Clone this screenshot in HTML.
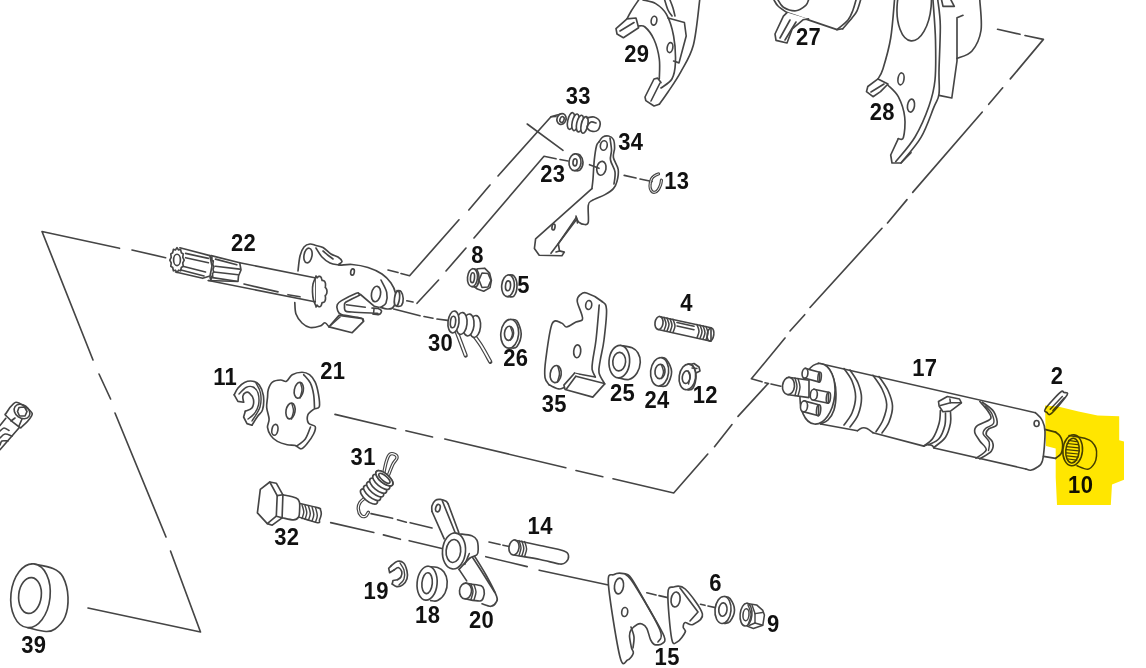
<!DOCTYPE html>
<html><head><meta charset="utf-8"><style>
html,body{margin:0;padding:0;background:#fff;width:1146px;height:668px;overflow:hidden}
svg{display:block;position:absolute;left:0;top:0}
.dr{}
.tx{filter:grayscale(1)}
.yl{mix-blend-mode:multiply}
.lb{font-family:"Liberation Sans",sans-serif;font-weight:bold;font-size:22px;letter-spacing:0.3px;fill:#111}
</style></head><body>
<svg class="dr" width="1146" height="668" viewBox="0 0 1146 668" stroke-linecap="round" stroke-linejoin="round"><path d="M165.6,257.7 L132,250" fill="none" stroke="#454545" stroke-width="1.65" />
<path d="M119.5,248.3 L42,231.5 L93,360" fill="none" stroke="#454545" stroke-width="1.65" />
<path d="M99,374 L110.6,399" fill="none" stroke="#454545" stroke-width="1.65" />
<path d="M115,413 L166,537" fill="none" stroke="#454545" stroke-width="1.65" />
<path d="M170.5,551 L200.5,632 L88,608" fill="none" stroke="#454545" stroke-width="1.65" />
<path d="M388,270 L398,272.5" fill="none" stroke="#454545" stroke-width="1.65" />
<path d="M401,273.5 L409.6,275.7 L459,219.8" fill="none" stroke="#454545" stroke-width="1.65" />
<path d="M468.8,210 L490,185" fill="none" stroke="#454545" stroke-width="1.65" />
<path d="M498,176 L551,116.8 L556,116.5" fill="none" stroke="#454545" stroke-width="1.65" />
<path d="M406.8,300.8 L413,302" fill="none" stroke="#454545" stroke-width="1.65" />
<path d="M417,303.3 L438.6,280" fill="none" stroke="#454545" stroke-width="1.65" />
<path d="M446,271 L466,248" fill="none" stroke="#454545" stroke-width="1.65" />
<path d="M474,238 L544,156.3 L556,158.8" fill="none" stroke="#454545" stroke-width="1.65" />
<path d="M560,159.5 L568,161" fill="none" stroke="#454545" stroke-width="1.65" />
<path d="M527.2,124 L563,150.3" fill="none" stroke="#454545" stroke-width="1.65" />
<path d="M589.5,164.7 L599,168.3" fill="none" stroke="#454545" stroke-width="1.65" />
<path d="M624.2,175.4 L636,178" fill="none" stroke="#454545" stroke-width="1.65" />
<path d="M640,179 L652,181.5" fill="none" stroke="#454545" stroke-width="1.65" />
<path d="M393.7,309 L420,315.7" fill="none" stroke="#454545" stroke-width="1.65" />
<path d="M424,316.5 L433,318.2" fill="none" stroke="#454545" stroke-width="1.65" />
<path d="M437,319 L447.6,320.4" fill="none" stroke="#454545" stroke-width="1.65" />
<path d="M335,414.4 L395.6,428.7" fill="none" stroke="#454545" stroke-width="1.65" />
<path d="M405.9,430.8 L432.5,437" fill="none" stroke="#454545" stroke-width="1.65" />
<path d="M444.8,439 L565.8,467.7" fill="none" stroke="#454545" stroke-width="1.65" />
<path d="M576,470.5 L602.8,476.7" fill="none" stroke="#454545" stroke-width="1.65" />
<path d="M613,478.8 L673.7,493 L707.8,454" fill="none" stroke="#454545" stroke-width="1.65" />
<path d="M714.5,446.7 L732,424.6" fill="none" stroke="#454545" stroke-width="1.65" />
<path d="M738,416.4 L767.7,384" fill="none" stroke="#454545" stroke-width="1.65" />
<path d="M997.6,29.3 L1020,34.3" fill="none" stroke="#454545" stroke-width="1.65" />
<path d="M1025,35.5 L1043.4,39.4 L1010.3,78.9" fill="none" stroke="#454545" stroke-width="1.65" />
<path d="M1002.7,87.8 L988.7,104.3" fill="none" stroke="#454545" stroke-width="1.65" />
<path d="M982.3,112 L912.7,192.4" fill="none" stroke="#454545" stroke-width="1.65" />
<path d="M907,199.6 L887.5,223" fill="none" stroke="#454545" stroke-width="1.65" />
<path d="M882,228.3 L810,307.5" fill="none" stroke="#454545" stroke-width="1.65" />
<path d="M804.7,314.7 L790,331" fill="none" stroke="#454545" stroke-width="1.65" />
<path d="M785,338 L751.4,378.8 L762,381.8" fill="none" stroke="#454545" stroke-width="1.65" />
<path d="M765,382.8 L768.5,383.5" fill="none" stroke="#454545" stroke-width="1.65" />
<path d="M771,384 L780.8,386.2" fill="none" stroke="#454545" stroke-width="1.65" />
<path d="M371,513.6 L392.6,518.3" fill="none" stroke="#454545" stroke-width="1.65" />
<path d="M397.5,519.8 L406.3,522.2" fill="none" stroke="#454545" stroke-width="1.65" />
<path d="M410.2,522.7 L432,528" fill="none" stroke="#454545" stroke-width="1.65" />
<path d="M489,542 L500,544.5" fill="none" stroke="#454545" stroke-width="1.65" />
<path d="M503,545.2 L509.3,546.5" fill="none" stroke="#454545" stroke-width="1.65" />
<path d="M330.7,522.6 L373.8,532.5" fill="none" stroke="#454545" stroke-width="1.65" />
<path d="M383.4,534.9 L400.4,539.3" fill="none" stroke="#454545" stroke-width="1.65" />
<path d="M409.2,540.7 L452.5,551" fill="none" stroke="#454545" stroke-width="1.65" />
<path d="M485.8,556.7 L527.2,566.6" fill="none" stroke="#454545" stroke-width="1.65" />
<path d="M539.2,570.2 L608.4,585" fill="none" stroke="#454545" stroke-width="1.65" />
<path d="M646.8,592.8 L656,595" fill="none" stroke="#454545" stroke-width="1.65" />
<path d="M659,595.6 L667.9,597.6" fill="none" stroke="#454545" stroke-width="1.65" />
<path d="M700.5,604.3 L705,605.3" fill="none" stroke="#454545" stroke-width="1.65" />
<path d="M708,606 L717.8,608.1" fill="none" stroke="#454545" stroke-width="1.65" />
<path d="M31.8,563.8 C35.3,564.6 47.8,566.3 53,568.5 C58.2,570.7 60.5,572.2 63,577 C65.5,581.8 67.7,590.3 68,597 C68.3,603.7 67.2,611.7 65,617 C62.8,622.3 58.2,626.6 55,629 C51.8,631.4 50.5,631.7 46,631.5 C41.5,631.3 31,628.3 28,627.7" fill="#fff" stroke="#454545" stroke-width="1.65" />
<ellipse cx="30.5" cy="595.7" rx="19.6" ry="32" transform="rotate(6 30.5 595.7)" fill="#fff" stroke="#454545" stroke-width="1.65"/>
<ellipse cx="30" cy="595.5" rx="11.3" ry="18" transform="rotate(6 30 595.5)" fill="none" stroke="#454545" stroke-width="1.65"/>
<path d="M5.8,418.3 L0,425.6" fill="none" stroke="#454545" stroke-width="1.65" />
<path d="M20,426.7 L0,449.7" fill="none" stroke="#454545" stroke-width="1.65" />
<path d="M0,431 C0.7,430.5 2.5,428.1 4,428 C5.5,427.9 8.2,430.1 9,430.5" fill="none" stroke="#454545" stroke-width="1.65" />
<path d="M0,438 C0.8,437.3 3,434.3 5,434 C7,433.7 10.8,435.7 12,436" fill="none" stroke="#454545" stroke-width="1.65" />
<path d="M0,445 C0.3,444.3 0.7,441.7 2,441 C3.3,440.3 7,441 8,441" fill="none" stroke="#454545" stroke-width="1.65" />
<path d="M6.3,413 C7.5,410.9 11.5,405.3 13.6,403.6 C15.7,401.9 16.1,401.8 18.9,403 C21.7,404.2 28.3,408.8 30.4,411 C32.5,413.2 32.8,413.6 31.4,416.2 C30,418.8 24.1,424.9 22,426.7 C19.9,428.4 21.5,428.5 18.9,426.7 C16.3,424.9 8.4,418.3 6.3,416 C4.2,413.7 5.1,415.1 6.3,413Z" fill="#fff" stroke="#454545" stroke-width="1.65" />
<ellipse cx="22" cy="411.5" rx="8.5" ry="6.5" transform="rotate(35 22 411.5)" fill="none" stroke="#454545" stroke-width="1.65"/>
<path d="M19,407.5 L24.5,407 L27,411.5 L25,416 L19.5,416 L17.5,411.5Z" fill="none" stroke="#454545" stroke-width="1.65" />
<path d="M11,421 L15,418" fill="none" stroke="#454545" stroke-width="1.65" />
<path d="M19,426 L22,419" fill="none" stroke="#454545" stroke-width="1.65" />
<path d="M298,271 C298.3,268.5 299,260 300,256 C301,252 302.3,249 304,247 C305.7,245 308,244.2 310,244 C312,243.8 313.8,244.9 316,245.5 C318.2,246.1 320.5,246.1 323,247.5 C325.5,248.9 328.5,252.4 331,254 C333.5,255.6 336.2,255.8 338,257 C339.8,258.2 341.8,260.2 342,261.5 C342.2,262.8 337.3,264.5 339,265 C340.7,265.5 347.2,264.1 352,264.5 C356.8,264.9 363,265.9 368,267.5 C373,269.1 378.2,271.4 382,274 C385.8,276.6 388.8,279.8 391,283 C393.2,286.2 394.8,289.8 395.5,293 C396.2,296.2 396,299.5 395.5,302 C395,304.5 393.9,306.8 392.5,308 C391.1,309.2 389.1,309.1 387,309 C384.9,308.9 381.2,307.5 380,307.2" fill="#fff" stroke="#454545" stroke-width="1.65" />
<path d="M294.8,302.5 C295,304.4 294.8,310.6 296,314 C297.2,317.4 299.7,320.8 302,323 C304.3,325.2 307,327 310,327.5 C313,328 317.5,326.8 320,326 C322.5,325.2 323.5,322.7 325,322.8 C326.5,322.9 328.3,326.2 329,326.9" fill="none" stroke="#454545" stroke-width="1.65" />
<path d="M339,315.4 L362.9,318.7 L363.7,321.2 L352.2,332.7 L329,326.9Z" fill="#fff" stroke="#454545" stroke-width="1.65" />
<path d="M331,325 L340,317" fill="none" stroke="#454545" stroke-width="1.5499999999999998" />
<path d="M358.7,293.6 C358.3,293.5 359.2,292 356.3,293.2 C353.4,294.4 344.7,298.7 341.5,300.6 C338.3,302.5 338,303.1 337.3,304.7 C336.6,306.3 336.8,308.4 337.5,310 C338.2,311.6 337.7,313.3 341.5,314.6 C345.3,315.9 356.8,316.9 360.4,317.9 C364,318.8 362.5,319.9 362.9,320.3" fill="#fff" stroke="#454545" stroke-width="1.65" />
<path d="M359.6,295.2 C357.3,296.3 348.5,300.2 346,302 C343.5,303.8 344.6,304.5 344.5,306 C344.4,307.5 344.2,310 345.5,311 C346.8,312 347.8,311.7 352,312 C356.2,312.3 366.7,312.8 371,313 C375.3,313.2 376.8,313.4 378,313.5" fill="none" stroke="#454545" stroke-width="1.65" />
<path d="M358.7,293.6 L360.5,294.5 L374.4,306.3 L378.5,307.2" fill="none" stroke="#454545" stroke-width="1.65" />
<path d="M346.4,304.7 L365.3,307.2" fill="none" stroke="#454545" stroke-width="1.5499999999999998" />
<path d="M372,308 C373,308.1 376.4,308 378,308.5 C379.6,309 381.3,310 381.5,311 C381.7,312 380.4,314 379,314.5 C377.6,315 374,314.1 373,314" fill="none" stroke="#454545" stroke-width="1.65" />
<path d="M374,309 L373.5,314" fill="none" stroke="#454545" stroke-width="1.5499999999999998" />
<path d="M316,248 C317,249.5 319.7,254.5 322,257 C324.3,259.5 327.2,261.7 330,263 C332.8,264.3 337.5,264.7 339,265" fill="none" stroke="#454545" stroke-width="1.65" />
<path d="M323,251 C324,251.8 327.3,254.7 329,256 C330.7,257.3 332.3,258.5 333,259" fill="none" stroke="#454545" stroke-width="1.65" />
<path d="M381,280 C381.9,282.1 385.9,288.5 386.7,292.3 C387.5,296.1 386.9,300.5 386,303 C385.1,305.5 381.8,306.5 381,307.2" fill="none" stroke="#454545" stroke-width="1.65" />
<ellipse cx="308" cy="255.5" rx="4" ry="7.4" transform="rotate(10 308 255.5)" fill="none" stroke="#454545" stroke-width="1.65"/>
<ellipse cx="352.5" cy="272" rx="1.8" ry="3.2" transform="rotate(10 352.5 272)" fill="none" stroke="#454545" stroke-width="1.65"/>
<ellipse cx="376" cy="294" rx="4.5" ry="7.8" transform="rotate(10 376 294)" fill="none" stroke="#454545" stroke-width="1.65"/>
<path d="M397,290.7 C397.7,290.8 400,290.2 401,291.5 C402,292.8 403.1,296.2 403.2,298.5 C403.3,300.8 402.5,304.2 401.5,305.5 C400.5,306.8 397.8,306.2 397,306.3" fill="#fff" stroke="#454545" stroke-width="1.65" />
<ellipse cx="397" cy="298.5" rx="2.5" ry="7.5" transform="rotate(8 397 298.5)" fill="#fff" stroke="#454545" stroke-width="1.65"/>
<path d="M239.7,262.7 L316,278 L316,302 L208.4,280.5" fill="#fff" stroke="#454545" stroke-width="1.65" />
<path d="M244,284 L278,291.9" fill="none" stroke="#454545" stroke-width="1.65" />
<path d="M288,294.7 L300,296.8" fill="none" stroke="#454545" stroke-width="1.65" />
<path d="M316,276 L317,277.9 L317.5,277.4 L318,276.9 L318.5,276.5 L319,276.3 L319.6,276.3 L320.1,276.5 L320.6,276.8 L321,277.3 L321.4,278 L321.6,278.8 L321.9,279.6 L322.1,280.5 L322.6,280.5 L323.2,280.6 L323.8,280.8 L324.3,281.1 L324.7,281.6 L325.1,282.2 L325.3,282.9 L325.5,283.7 L325.5,284.6 L325.5,285.5 L325.4,286.4 L325.2,287.3 L325.7,287.8 L326.1,288.4 L326.5,289.1 L326.8,289.9 L326.9,290.7 L327,291.5 L326.9,292.3 L326.8,293.1 L326.5,293.9 L326.1,294.6 L325.7,295.2 L325.2,295.7 L325.4,296.6 L325.5,297.5 L325.5,298.4 L325.5,299.3 L325.3,300.1 L325.1,300.8 L324.7,301.4 L324.3,301.9 L323.8,302.2 L323.2,302.4 L322.6,302.5 L322.1,302.5 L321.9,303.4 L321.6,304.2 L321.4,305 L321,305.7 L320.6,306.2 L320.1,306.5 L319.6,306.7 L319,306.7 L318.5,306.5 L318,306.1 L317.5,305.6 L317,305.1 L316,307" fill="#fff" stroke="#454545" stroke-width="1.65" />
<path d="M316,276.5 C315.5,277.8 313.6,281.4 313,284 C312.4,286.6 312.4,289.3 312.5,292 C312.6,294.7 312.9,297.7 313.5,300 C314.1,302.3 315.6,305 316,306" fill="none" stroke="#454545" stroke-width="1.65" />
<path d="M211.2,255.6 L239.7,262.7 L241,270 L238.5,276 L238,281.5 L208.4,280.5" fill="#fff" stroke="#454545" stroke-width="1.65" />
<path d="M215.5,259.1 L236.8,264.8" fill="none" stroke="#454545" stroke-width="1.65" />
<path d="M215.5,266.3 L239.7,269.1" fill="none" stroke="#454545" stroke-width="1.65" />
<path d="M214,272 L238.2,274.8" fill="none" stroke="#454545" stroke-width="1.65" />
<path d="M212.6,277.6 L236.8,281.2" fill="none" stroke="#454545" stroke-width="1.65" />
<path d="M210,255.5 L210.7,258.9 L211.9,256.9 L212,261 L213.3,260.9 L212.8,264.7 L214,266.5 L213,269.1 L213.7,272.4 L212.5,273.3 L212.7,277.4 L211.4,276.3 L211,280.1 L210,277.4" fill="none" stroke="#454545" stroke-width="1.65" />
<path d="M179.9,247.8 L209.8,255.6 L212,266 L210,276 L202.7,278.3 L175.6,272" fill="#fff" stroke="#454545" stroke-width="1.65" />
<path d="M185.6,253.4 L208.4,258.4" fill="none" stroke="#454545" stroke-width="1.65" />
<path d="M185.6,257.7 L208.4,262.7" fill="none" stroke="#454545" stroke-width="1.65" />
<path d="M182.8,266.3 L205.5,272" fill="none" stroke="#454545" stroke-width="1.65" />
<path d="M181,270 L204,276" fill="none" stroke="#454545" stroke-width="1.65" />
<path d="M184.2,260.1 L182.8,262.8 L183.2,266.3 L181.3,267.5 L180.6,270.8 L178.6,270.2 L177,272.5 L175.4,270.2 L173.4,270.8 L172.7,267.5 L170.8,266.3 L171.2,262.8 L169.8,260.1 L171.2,257.4 L170.8,253.9 L172.7,252.7 L173.4,249.4 L175.4,250 L177,247.7 L178.6,250 L180.6,249.4 L181.3,252.7 L183.2,253.9 L182.8,257.4Z" fill="#fff" stroke="#454545" stroke-width="1.65" />
<ellipse cx="177" cy="259.9" rx="3.4" ry="5.7" transform="rotate(0 177 259.9)" fill="none" stroke="#454545" stroke-width="1.65"/>
<path d="M477.9,268.7 L484.6,268.2 L489.6,273.2 L491.4,280.4 L490,287.6 L483.7,291.2 L477.4,289 L472,285 L472,272Z" fill="#fff" stroke="#454545" stroke-width="1.65" />
<path d="M482,273 L488,273.5 L491,280.4 L488,287 L482,287.5 L479,280Z" fill="none" stroke="#454545" stroke-width="1.5499999999999998" />
<path d="M472.5,268.7 C473.2,268.9 475.9,268.5 477,270 C478.1,271.5 479,275 479,277.7 C479,280.4 478.1,284.5 477,286 C475.9,287.5 473.2,286.6 472.5,286.7" fill="#fff" stroke="#454545" stroke-width="1.65" />
<ellipse cx="472.5" cy="277.7" rx="5" ry="9" transform="rotate(5 472.5 277.7)" fill="#fff" stroke="#454545" stroke-width="1.65"/>
<ellipse cx="472.5" cy="277.7" rx="2" ry="5" transform="rotate(5 472.5 277.7)" fill="none" stroke="#454545" stroke-width="1.65"/>
<path d="M508,275 C509,275.2 512.5,274.2 514,276 C515.5,277.8 517,282.5 517,285.8 C517,289.1 515.5,294.2 514,296 C512.5,297.8 509,296.5 508,296.6" fill="#fff" stroke="#454545" stroke-width="1.65" />
<ellipse cx="508" cy="285.8" rx="6.3" ry="10.8" transform="rotate(5 508 285.8)" fill="#fff" stroke="#454545" stroke-width="1.65"/>
<ellipse cx="508" cy="285.8" rx="2.5" ry="5" transform="rotate(5 508 285.8)" fill="none" stroke="#454545" stroke-width="1.65"/>
<path d="M456,330 C456.8,332.2 459.4,338.7 461,343 C462.6,347.3 464.9,353.5 465.7,355.6" fill="none" stroke="#454545" stroke-width="4.2" />
<path d="M456,330 C456.8,332.2 459.4,338.7 461,343 C462.6,347.3 464.9,353.5 465.7,355.6" fill="none" stroke="#fff" stroke-width="1.8" stroke-linecap="butt"/>
<path d="M474,335.6 C475.3,337.5 479.3,342.6 482,347 C484.7,351.4 488.9,359.3 490.3,361.8" fill="none" stroke="#454545" stroke-width="4.2" />
<path d="M474,335.6 C475.3,337.5 479.3,342.6 482,347 C484.7,351.4 488.9,359.3 490.3,361.8" fill="none" stroke="#fff" stroke-width="1.8" stroke-linecap="butt"/>
<ellipse cx="475" cy="326.5" rx="5.5" ry="11" transform="rotate(6 475 326.5)" fill="#fff" stroke="#454545" stroke-width="1.65"/>
<ellipse cx="468.5" cy="325" rx="5.5" ry="11" transform="rotate(6 468.5 325)" fill="#fff" stroke="#454545" stroke-width="1.65"/>
<ellipse cx="461.5" cy="323.5" rx="5.5" ry="11" transform="rotate(6 461.5 323.5)" fill="#fff" stroke="#454545" stroke-width="1.65"/>
<ellipse cx="453.5" cy="322" rx="5.5" ry="11" transform="rotate(6 453.5 322)" fill="#fff" stroke="#454545" stroke-width="1.65"/>
<ellipse cx="453" cy="322" rx="2.6" ry="5.8" transform="rotate(6 453 322)" fill="none" stroke="#454545" stroke-width="1.65"/>
<path d="M511,319.6 C512,319.8 515.3,318.6 517,321 C518.7,323.4 521.2,329.6 521.2,333.8 C521.2,338.1 518.7,344.1 517,346.5 C515.3,348.9 512,347.8 511,348" fill="#fff" stroke="#454545" stroke-width="1.65" />
<ellipse cx="509.7" cy="333.8" rx="8.9" ry="14.4" transform="rotate(5 509.7 333.8)" fill="#fff" stroke="#454545" stroke-width="1.65"/>
<ellipse cx="509" cy="333.3" rx="4.5" ry="7.1" transform="rotate(5 509 333.3)" fill="none" stroke="#454545" stroke-width="1.65"/>
<path d="M510.5,327 C510.8,328.1 512.5,331.3 512.5,333.5 C512.5,335.7 510.8,338.9 510.5,340" fill="none" stroke="#454545" stroke-width="1.4500000000000002" />
<path d="M551,116.8 C552,116.5 555.3,115.5 557,115 C558.7,114.5 560.3,114.2 561,114" fill="none" stroke="#454545" stroke-width="1.65" />
<ellipse cx="561.5" cy="119" rx="4.5" ry="5.5" transform="rotate(20 561.5 119)" fill="#fff" stroke="#454545" stroke-width="1.65"/>
<ellipse cx="562" cy="119.5" rx="2" ry="3" transform="rotate(20 562 119.5)" fill="none" stroke="#454545" stroke-width="1.5499999999999998"/>
<ellipse cx="571" cy="121" rx="3.3" ry="8.5" transform="rotate(12 571 121)" fill="#fff" stroke="#454545" stroke-width="1.65"/>
<ellipse cx="575.5" cy="122.3" rx="3.3" ry="8.5" transform="rotate(12 575.5 122.3)" fill="#fff" stroke="#454545" stroke-width="1.65"/>
<ellipse cx="580" cy="123.6" rx="3.3" ry="8.5" transform="rotate(12 580 123.6)" fill="#fff" stroke="#454545" stroke-width="1.65"/>
<ellipse cx="584.5" cy="124.9" rx="3.3" ry="8.5" transform="rotate(12 584.5 124.9)" fill="#fff" stroke="#454545" stroke-width="1.65"/>
<path d="M587,118 C588.2,117.8 591.8,116.3 594,117 C596.2,117.7 599.3,119.8 600,122 C600.7,124.2 599.5,128.5 598,130 C596.5,131.5 592.8,131.5 591,131 C589.2,130.5 587,128.5 587,127 C587,125.5 589.5,122.7 591,122 C592.5,121.3 595.2,122.8 596,123" fill="none" stroke="#454545" stroke-width="1.65" />
<path d="M575,153.9 C575.8,154.1 578.7,153.6 580,155 C581.3,156.4 583,159.8 583,162.3 C583,164.8 581.3,168.6 580,170 C578.7,171.4 575.8,170.6 575,170.7" fill="#fff" stroke="#454545" stroke-width="1.65" />
<ellipse cx="575" cy="162.3" rx="6" ry="8.4" transform="rotate(5 575 162.3)" fill="#fff" stroke="#454545" stroke-width="1.65"/>
<ellipse cx="575" cy="162.3" rx="2" ry="3.6" transform="rotate(5 575 162.3)" fill="none" stroke="#454545" stroke-width="1.65"/>
<path d="M599,141.9 C599.6,141.1 601,138.1 602.6,137.1 C604.2,136.1 606.8,135.6 608.6,136 C610.4,136.4 612.4,137.5 613.4,139.5 C614.4,141.5 614.6,144.9 614.6,147.9 C614.6,150.9 612.8,153.9 613.4,157.5 C614,161.1 617.6,165.5 618.2,169.5 C618.8,173.5 617.8,178.2 617,181.4 C616.2,184.6 615.4,186.4 613.4,188.6 C611.4,190.8 608.6,192.6 605,194.6 C601.4,196.6 594.7,198.8 591.9,200.6 C589.1,202.4 588.9,201.8 588.3,205.4 C587.7,209 588.9,219 588.3,222.2 C587.7,225.4 586.3,224.5 584.7,224.5 C583.1,224.5 580.1,223.4 578.7,222.2 C577.3,221 576.7,218.2 576.3,217.4" fill="none" stroke="#454545" stroke-width="1.65" />
<path d="M576.3,217.4 L558.3,243.7 L559.5,250.9 L564.3,252.1 L561.9,255.7 L539.2,255.2 L534.4,248.5 L535.6,238.9 L591.9,188.6" fill="none" stroke="#454545" stroke-width="1.65" />
<path d="M591.9,188.6 C592.1,187 592.6,183.8 593,179 C593.4,174.2 593.7,165.5 594.3,159.9 C594.9,154.3 595.8,148.5 596.6,145.5 C597.4,142.5 598.6,142.5 599,141.9" fill="none" stroke="#454545" stroke-width="1.65" />
<path d="M610,138 C610.2,140 611.4,146.3 611.5,150 C611.6,153.7 609.9,156.3 610.5,160 C611.1,163.7 614.4,167.9 615,171.9 C615.6,175.9 614.2,182 614,184" fill="none" stroke="#454545" stroke-width="1.65" />
<path d="M551,253.3 L576.3,219.8" fill="none" stroke="#454545" stroke-width="1.65" />
<path d="M576,216 L577.5,223" fill="none" stroke="#454545" stroke-width="1.5499999999999998" />
<path d="M559.5,250.9 L556,252" fill="none" stroke="#454545" stroke-width="1.5499999999999998" />
<ellipse cx="603.8" cy="145.5" rx="3.4" ry="4.8" transform="rotate(10 603.8 145.5)" fill="none" stroke="#454545" stroke-width="1.65"/>
<ellipse cx="601.4" cy="168.3" rx="4.6" ry="7" transform="rotate(10 601.4 168.3)" fill="none" stroke="#454545" stroke-width="1.65"/>
<ellipse cx="553.5" cy="227" rx="1.5" ry="3" transform="rotate(10 553.5 227)" fill="none" stroke="#454545" stroke-width="1.65"/>
<path d="M658.5,174 C657.9,174.2 656.2,174.7 655,175.5 C653.8,176.3 652.3,177.2 651.5,179 C650.7,180.8 650,184 650,186 C650,188 650.7,189.9 651.5,191 C652.3,192.1 653.6,192.5 654.7,192.3 C655.8,192.1 657,191.2 658,190 C659,188.8 659.9,186.6 660.5,185 C661.1,183.4 661.3,181 661.5,180.2" fill="none" stroke="#454545" stroke-width="3.2" />
<path d="M658.5,174 C657.9,174.2 656.2,174.7 655,175.5 C653.8,176.3 652.3,177.2 651.5,179 C650.7,180.8 650,184 650,186 C650,188 650.7,189.9 651.5,191 C652.3,192.1 653.6,192.5 654.7,192.3 C655.8,192.1 657,191.2 658,190 C659,188.8 659.9,186.6 660.5,185 C661.1,183.4 661.3,181 661.5,180.2" fill="none" stroke="#fff" stroke-width="0.9"/>
<path d="M638.6,0 C637.4,1.8 633.3,7.7 631.4,10.8 C629.5,14 627.7,17.5 627,18.9" fill="none" stroke="#454545" stroke-width="1.65" />
<path d="M627,18.9 L616,28.7 L617,34 L623.4,37.7 L638.6,27.8 L636,18 L627,18.9" fill="#fff" stroke="#454545" stroke-width="1.65" />
<path d="M620,31 L634,22.5" fill="none" stroke="#454545" stroke-width="1.65" />
<path d="M638.6,26 C639.7,26.2 642.4,24.8 645,27 C647.6,29.2 651.6,34.2 654,39.5 C656.4,44.8 658.4,52.4 659.3,59 C660.2,65.6 659.3,75.7 659.3,79" fill="none" stroke="#454545" stroke-width="1.65" />
<path d="M661,82.6 L657.5,78.1 L654,79 L645,97 L645.8,100.6 L654,106 L659.3,104.2" fill="#fff" stroke="#454545" stroke-width="1.65" />
<path d="M651,101 L660,83" fill="none" stroke="#454545" stroke-width="1.65" />
<path d="M699.7,0 C698.7,7.5 696.5,33 693.4,45 C690.2,57 685,64.1 680.8,71.9 C676.6,79.7 671.6,86.6 668,92 C664.4,97.4 660.8,102.2 659.3,104.2" fill="none" stroke="#454545" stroke-width="1.65" />
<path d="M643,0 C645.1,0.6 651.8,1.2 655.7,3.6 C659.6,6 663.5,9 666.5,14.4 C669.5,19.8 672.1,27.9 673.6,36 C675.1,44.1 675.7,55.7 675.4,62.9 C675.1,70.1 674.3,74.8 671.9,79 C669.5,83.2 662.8,86.5 661,88" fill="none" stroke="#454545" stroke-width="1.65" />
<path d="M668,18 L684.4,22.5 L686.2,36 L679,62.9 L673.6,61" fill="none" stroke="#454545" stroke-width="1.65" />
<path d="M664.7,0 C665.2,1.7 666.8,7.3 668,10 C669.2,12.7 671.3,15 672,16" fill="none" stroke="#454545" stroke-width="1.65" />
<path d="M670,0 C670.5,1.3 672.2,5.3 673,8 C673.8,10.7 674.7,14.7 675,16" fill="none" stroke="#454545" stroke-width="1.65" />
<ellipse cx="654" cy="20.7" rx="2.8" ry="4.5" transform="rotate(10 654 20.7)" fill="none" stroke="#454545" stroke-width="1.65"/>
<ellipse cx="670" cy="47.6" rx="2.8" ry="5" transform="rotate(10 670 47.6)" fill="none" stroke="#454545" stroke-width="1.65"/>
<path d="M778,0 C778.9,1.2 780.4,5.4 783.4,7.2 C786.4,9 792.3,11.1 796,10.8 C799.7,10.5 803.7,7.2 805.8,5.4 C807.9,3.6 808,0.9 808.5,0" fill="none" stroke="#454545" stroke-width="1.65" />
<path d="M774,0 C774.7,1 775.8,3.9 778,6 C780.2,8.1 785.5,11.5 787,12.6" fill="none" stroke="#454545" stroke-width="1.65" />
<path d="M787,12.6 L837,29.6 L842.7,28.8" fill="none" stroke="#454545" stroke-width="1.65" />
<path d="M842.7,28.8 C844.2,27 849.6,21 852,18 C854.4,15 855.6,13.8 857,10.8 C858.4,7.8 860,1.8 860.6,0" fill="none" stroke="#454545" stroke-width="1.65" />
<path d="M837,29.6 C838.8,28 845.3,23.3 848,20 C850.7,16.7 851.7,13.3 853,10 C854.3,6.7 855.5,1.7 856,0" fill="none" stroke="#454545" stroke-width="1.65" />
<path d="M787,12.6 L783.4,16.2 L775,34 L776,40.4 L787,43 L792.3,28.8 L803,19.8 L808.5,18.9" fill="#fff" stroke="#454545" stroke-width="1.65" />
<path d="M780,38 L790,20" fill="none" stroke="#454545" stroke-width="1.65" />
<path d="M785,40 L796,22" fill="none" stroke="#454545" stroke-width="1.65" />
<path d="M894.5,0 C893.9,6.3 892.6,26.5 890.7,38 C888.8,49.5 885.1,61.9 883,68.7 C880.9,75.5 878.8,77.2 878,78.9" fill="none" stroke="#454545" stroke-width="1.65" />
<path d="M878,78.9 L867.8,86.5 L866.5,91.6 L873,96.7 L880.5,91.6 L888,84 L878,78.9" fill="#fff" stroke="#454545" stroke-width="1.65" />
<path d="M871,92 L884,84" fill="none" stroke="#454545" stroke-width="1.65" />
<path d="M888,85.2 C889.7,87.1 895.5,91.4 898.3,96.7 C901.1,102 903.9,110.2 904.7,117 C905.6,123.8 904.5,133.8 903.4,137.4 C902.3,141 899.1,138.5 898.3,138.7" fill="none" stroke="#454545" stroke-width="1.65" />
<path d="M898.3,138.7 L890.7,155 L892,163 L901,163 L911,152.7" fill="#fff" stroke="#454545" stroke-width="1.65" />
<path d="M901,163 C904.3,158.7 915.5,146.8 921,137.4 C926.5,128.1 931,114.1 934,106.9 C937,99.7 938.2,100 939,94 C939.8,88 938.8,82.4 939,71 C939.2,59.6 940.5,37.2 940.3,25.4 C940.1,13.6 938.2,4.2 937.8,0" fill="none" stroke="#454545" stroke-width="1.65" />
<path d="M895.8,161.6 C899,157.5 909.5,146.3 915,137 C920.5,127.7 925.7,115.5 929,106 C932.3,96.5 933.9,91 935,80 C936.1,69 935.8,53.3 935.5,40 C935.2,26.7 933.4,6.7 933,0" fill="none" stroke="#454545" stroke-width="1.65" />
<path d="M939,95.4 L951.8,98 L957,61 L957,17.8 L963,15.3" fill="none" stroke="#454545" stroke-width="1.65" />
<path d="M957,58.5 C959.5,57.2 968,55.7 972,51 C976,46.3 979.7,39 981,30.5 C982.3,22 980,5.1 979.8,0" fill="none" stroke="#454545" stroke-width="1.65" />
<path d="M941.6,0 L943,6.4 L954.3,6.4 L951,0" fill="none" stroke="#454545" stroke-width="1.65" />
<ellipse cx="914.2" cy="5" rx="17" ry="36" transform="rotate(5 914.2 5)" fill="none" stroke="#454545" stroke-width="1.65"/>
<ellipse cx="901" cy="78.9" rx="3" ry="6" transform="rotate(8 901 78.9)" fill="none" stroke="#454545" stroke-width="1.65"/>
<ellipse cx="911" cy="105.6" rx="3.5" ry="6.5" transform="rotate(8 911 105.6)" fill="none" stroke="#454545" stroke-width="1.65"/>
<path d="M549.4,385.1 C548.7,383.9 545.6,381.8 545,377.6 C544.4,373.4 544.5,368.9 545.7,360 C546.9,351.1 549.4,330.2 552,324 C554.6,317.8 558.9,322.5 561.4,323 C563.9,323.5 564.3,327.2 566.7,327 C569.1,326.8 573.4,323.2 576,322 C578.6,320.8 581.5,321.2 582.4,319.8 C583.3,318.4 582.3,316.6 581.4,313.5 C580.5,310.4 577.4,304.1 577.2,301 C577,297.9 578.7,296 580.3,294.7 C581.9,293.4 583.1,291.9 586.6,293 C590.1,294.1 598,298.3 601.3,301 C604.6,303.7 606,302.9 606.5,309.4 C607,315.9 605,331.6 604,340 C603,348.4 601.1,354.6 600.3,360 C599.5,365.4 598.3,368.6 599,372.6 C599.7,376.6 603.8,382 604.7,383.9" fill="#fff" stroke="#454545" stroke-width="1.65" />
<path d="M549.4,385.1 C551,385.7 556.4,388.5 558.8,388.9 C561.2,389.3 563,387.8 563.9,387.6" fill="none" stroke="#454545" stroke-width="1.65" />
<path d="M599.2,305 C598.7,310.8 597.1,330.8 596,340 C594.9,349.2 593.4,355.1 592.8,360 C592.1,364.9 591.7,366.6 592.1,369.4 C592.5,372.2 594.8,375.7 595.3,377" fill="none" stroke="#454545" stroke-width="1.65" />
<path d="M574.5,373.2 L595.3,377" fill="none" stroke="#454545" stroke-width="1.65" />
<path d="M574.5,373.2 L563.9,385.1 L565.1,389.5 L592.8,397.1 L604.7,383.9" fill="#fff" stroke="#454545" stroke-width="1.65" />
<path d="M575.8,376.3 L603.4,383.2" fill="none" stroke="#454545" stroke-width="1.65" />
<path d="M575.8,376.3 L566.4,388.9" fill="none" stroke="#454545" stroke-width="1.65" />
<ellipse cx="588.7" cy="305" rx="3" ry="4.5" transform="rotate(10 588.7 305)" fill="none" stroke="#454545" stroke-width="1.65"/>
<ellipse cx="577.2" cy="351.3" rx="3.5" ry="6.5" transform="rotate(5 577.2 351.3)" fill="none" stroke="#454545" stroke-width="1.65"/>
<ellipse cx="555.7" cy="374.1" rx="5.5" ry="8.6" transform="rotate(8 555.7 374.1)" fill="none" stroke="#454545" stroke-width="1.65"/>
<path d="M558,366.5 C558.2,367.8 559.6,371.4 559.5,374 C559.4,376.6 557.8,380.7 557.5,382" fill="none" stroke="#454545" stroke-width="1.5499999999999998" />
<path d="M620.6,345.5 C622.5,345.9 629.2,346.6 632.1,347.8 C635,349.1 636.6,350.6 638,353 C639.4,355.4 640.5,358.9 640.3,362.2 C640.1,365.5 638.9,370.1 637,373 C635.1,375.9 631.8,378.7 628.8,379.5 C625.8,380.3 620.6,378.2 619,378" fill="#fff" stroke="#454545" stroke-width="1.65" />
<ellipse cx="619.3" cy="361.6" rx="10.3" ry="16.3" transform="rotate(4 619.3 361.6)" fill="#fff" stroke="#454545" stroke-width="1.65"/>
<ellipse cx="619.2" cy="361.6" rx="6.4" ry="9.3" transform="rotate(4 619.2 361.6)" fill="none" stroke="#454545" stroke-width="1.65"/>
<path d="M660,357.7 C661,357.9 664.1,356.6 666,359 C667.9,361.4 671.4,367.6 671.6,371.9 C671.8,376.2 668.9,382.6 667,385 C665.1,387.4 661.2,385.9 660,386.1" fill="#fff" stroke="#454545" stroke-width="1.65" />
<ellipse cx="659.6" cy="371.9" rx="9" ry="14.2" transform="rotate(6 659.6 371.9)" fill="#fff" stroke="#454545" stroke-width="1.65"/>
<ellipse cx="660" cy="371.5" rx="5" ry="7.2" transform="rotate(6 660 371.5)" fill="none" stroke="#454545" stroke-width="1.65"/>
<path d="M661.5,365 C661.8,366.2 663.5,369.8 663.5,372 C663.5,374.2 661.8,377.4 661.5,378.5" fill="none" stroke="#454545" stroke-width="1.4500000000000002" />
<path d="M688,364 C688.8,364.3 691.7,364 693,366 C694.3,368 696,372.3 696,376 C696,379.7 694.3,385.7 693,388 C691.7,390.3 688.8,389.7 688,390" fill="#fff" stroke="#454545" stroke-width="1.65" />
<ellipse cx="687.4" cy="376.9" rx="8.2" ry="12.9" transform="rotate(8 687.4 376.9)" fill="#fff" stroke="#454545" stroke-width="1.65"/>
<ellipse cx="686.2" cy="377.2" rx="3.9" ry="6.3" transform="rotate(8 686.2 377.2)" fill="none" stroke="#454545" stroke-width="1.65"/>
<path d="M688,370.8 C688.3,371.8 689.9,374.8 690,377 C690.1,379.2 688.8,382.8 688.5,384" fill="none" stroke="#454545" stroke-width="1.4500000000000002" />
<path d="M690,364.5 L694,363.5 L699,367 L700,371 L696,373" fill="none" stroke="#454545" stroke-width="1.65" />
<path d="M692,368 L697,368.5" fill="none" stroke="#454545" stroke-width="1.4500000000000002" />
<path d="M659,316.5 L711,327.8 L711,341.2 L658,329.5" fill="#fff" stroke="#454545" stroke-width="1.65" />
<ellipse cx="710.5" cy="334.5" rx="3.3" ry="6.6" transform="rotate(8 710.5 334.5)" fill="none" stroke="#454545" stroke-width="1.65"/>
<ellipse cx="659" cy="323" rx="4" ry="6.5" transform="rotate(8 659 323)" fill="#fff" stroke="#454545" stroke-width="1.65"/>
<path d="M664,317.4 C664.3,318.5 666,321.8 666,324 C666,326.2 664.3,329.4 664,330.5" fill="none" stroke="#454545" stroke-width="1.5499999999999998" />
<path d="M667,318 C667.3,319.1 669,322.5 669,324.6 C669,326.8 667.3,330.1 667,331.1" fill="none" stroke="#454545" stroke-width="1.5499999999999998" />
<path d="M670,318.7 C670.3,319.8 672,323.1 672,325.3 C672,327.5 670.3,330.7 670,331.8" fill="none" stroke="#454545" stroke-width="1.5499999999999998" />
<path d="M673,319.3 C673.3,320.4 675,323.8 675,325.9 C675,328.1 673.3,331.4 673,332.4" fill="none" stroke="#454545" stroke-width="1.5499999999999998" />
<path d="M697,324.6 C697.3,325.7 699,329 699,331.2 C699,333.4 697.3,336.7 697,337.8" fill="none" stroke="#454545" stroke-width="1.5499999999999998" />
<path d="M700,325.2 C700.3,326.4 702,329.6 702,331.8 C702,334 700.3,337.3 700,338.4" fill="none" stroke="#454545" stroke-width="1.5499999999999998" />
<path d="M703,325.9 C703.3,327 705,330.3 705,332.5 C705,334.7 703.3,338 703,339.1" fill="none" stroke="#454545" stroke-width="1.5499999999999998" />
<path d="M706,326.6 C706.3,327.6 708,330.9 708,333.1 C708,335.3 706.3,338.6 706,339.8" fill="none" stroke="#454545" stroke-width="1.5499999999999998" />
<path d="M677,322.5 L694,326.2" fill="none" stroke="#454545" stroke-width="1.65" />
<path d="M677,326 L694,329.7" fill="none" stroke="#454545" stroke-width="1.5499999999999998" />
<path d="M818.6,363.2 L1035.4,412.7" fill="none" stroke="#454545" stroke-width="1.65" />
<path d="M820.6,424 L857.5,430.7" fill="none" stroke="#454545" stroke-width="1.65" />
<path d="M857.5,430.7 C858.2,430.2 860.4,428.4 862,428 C863.6,427.6 865.2,427.7 867,428.5 C868.8,429.3 872,432 873,432.7" fill="none" stroke="#454545" stroke-width="1.65" />
<path d="M873,432.7 L923.8,446.1" fill="none" stroke="#454545" stroke-width="1.65" />
<path d="M923.8,446.1 C924.5,445.9 926.6,444.9 928,444.8 C929.4,444.7 931,445 932,445.5 C933,446 933.7,447.6 934,448" fill="none" stroke="#454545" stroke-width="1.65" />
<path d="M934,448 L1025.8,469" fill="none" stroke="#454545" stroke-width="1.65" />
<path d="M1035.4,412.7 C1036.5,413.9 1040.4,416.8 1042,420 C1043.6,423.2 1044.9,425 1045,431.8 C1045.1,438.6 1044,454.6 1042.5,460.6 C1041,466.6 1038,466.4 1036,468 C1034,469.6 1032.3,470 1030.6,470.2 C1028.9,470.4 1026.6,469.2 1025.8,469" fill="none" stroke="#454545" stroke-width="1.65" />
<ellipse cx="1036.6" cy="423.5" rx="2.5" ry="3" transform="rotate(0 1036.6 423.5)" fill="none" stroke="#454545" stroke-width="1.65"/>
<path d="M818,363.4 C819.7,364.2 825.3,365.2 828,368 C830.7,370.8 832.7,375.7 834,380 C835.3,384.3 836,389 836,394 C836,399 835.3,405.7 834,410 C832.7,414.3 830.2,417.7 828,420 C825.8,422.3 821.8,423.3 820.6,424" fill="none" stroke="#454545" stroke-width="1.65" />
<ellipse cx="817.5" cy="393.8" rx="17.3" ry="30.4" transform="rotate(6 817.5 393.8)" fill="#fff" stroke="#454545" stroke-width="1.65"/>
<path d="M844,368.5 C845.3,370.6 850.1,376.3 852,381 C853.9,385.7 855.6,391.4 855.6,396.7 C855.6,402 853.9,408.3 852,413 C850.1,417.7 845.3,423 844,425" fill="none" stroke="#454545" stroke-width="1.65" />
<path d="M850,370 C851.3,372.2 856.1,378.3 858,383 C859.9,387.7 861.5,392.7 861.5,398 C861.5,403.3 859.9,410.2 858,415 C856.1,419.8 851.3,425 850,427" fill="none" stroke="#454545" stroke-width="1.65" />
<path d="M873,375.3 C874.5,377.6 879.7,384.1 882,389 C884.3,393.9 886.5,399.3 886.7,404.5 C886.9,409.7 884.8,415.5 883,420 C881.2,424.5 877.2,429.8 876,431.7" fill="none" stroke="#454545" stroke-width="1.65" />
<path d="M879,376.5 C880.5,378.8 885.8,385.6 888,390.5 C890.2,395.4 892.3,400.8 892.5,406 C892.7,411.2 890.8,417.5 889,422 C887.2,426.5 883.2,431.2 882,433" fill="none" stroke="#454545" stroke-width="1.65" />
<path d="M940.4,410.5 C940.2,412.6 940.4,418.5 939.1,423.2 C937.8,427.9 935.2,434.7 932.7,438.5 C930.2,442.3 925.3,444.8 923.8,446.1" fill="none" stroke="#454545" stroke-width="1.65" />
<path d="M945.5,413 C945.4,415.1 945.9,421.4 944.8,425.7 C943.7,429.9 941.8,435.3 939.1,438.5 C936.5,441.7 930.6,443.8 928.9,444.8" fill="none" stroke="#454545" stroke-width="1.65" />
<path d="M950.5,412.4 C950.5,414.2 951.3,419.1 950.5,423.2 C949.7,427.3 948.2,433.2 945.5,437.2 C942.8,441.2 935.9,445.7 934,447.4" fill="none" stroke="#454545" stroke-width="1.65" />
<path d="M938.5,401.5 L947.4,396.5 L959.5,399 L961.4,402.8 L950.5,411.1 L942.9,411.7 L939.1,406Z" fill="#fff" stroke="#454545" stroke-width="1.65" />
<path d="M949.9,399 L950.5,402.8 L961.4,402.8" fill="none" stroke="#454545" stroke-width="1.5499999999999998" />
<path d="M940.4,405.4 L950.5,402.8" fill="none" stroke="#454545" stroke-width="1.5499999999999998" />
<path d="M979.8,401.5 C981.1,403 985.7,407.6 987.5,410.5 C989.3,413.4 992.3,416.2 990.6,418.7 C988.9,421.2 979.9,423.5 977.3,425.7 C974.6,427.9 974.3,429.6 974.7,432.1 C975.1,434.7 977.9,438 979.8,441 C981.7,444 986.8,447 986.2,449.9 C985.6,452.8 977.7,456.8 976,458.2" fill="none" stroke="#454545" stroke-width="1.65" />
<path d="M982.4,402.2 C984.3,403.8 991.4,408 993.8,411.7 C996.2,415.4 997.9,421.6 997,424.5 C996.1,427.4 990.5,427.2 988.7,428.9 C986.9,430.6 985.6,432.4 986.2,434.6 C986.9,436.8 991.8,439.5 992.6,442.3 C993.5,445.1 993.4,448.4 991.3,451.2 C989.2,453.9 981.7,457.5 979.8,458.8" fill="none" stroke="#454545" stroke-width="1.65" />
<path d="M985.5,406 C986.6,407.3 990.7,411.1 992,414 C993.3,416.9 994.6,421.1 993.5,423.5 C992.4,425.9 987.2,426.8 985.5,428.5 C983.8,430.2 982.6,431.8 983.2,434 C983.8,436.2 988.3,439.2 989.2,442 C990.1,444.8 988.6,449.1 988.5,450.5" fill="none" stroke="#454545" stroke-width="1.4500000000000002" />
<path d="M805,368.4 L819.6,372.3 L819.6,382.1 L805,378.2" fill="#fff" stroke="#454545" stroke-width="1.65" />
<ellipse cx="819.6" cy="377.2" rx="1.7" ry="4.9" transform="rotate(6 819.6 377.2)" fill="none" stroke="#454545" stroke-width="1.5499999999999998"/>
<ellipse cx="805" cy="373.3" rx="2.9" ry="4.9" transform="rotate(6 805 373.3)" fill="#fff" stroke="#454545" stroke-width="1.65"/>
<path d="M813.8,389.2 L828.4,392.2 L828.4,403.2 L813.8,400.2" fill="#fff" stroke="#454545" stroke-width="1.65" />
<ellipse cx="828.4" cy="397.7" rx="2.1" ry="5.5" transform="rotate(6 828.4 397.7)" fill="none" stroke="#454545" stroke-width="1.5499999999999998"/>
<ellipse cx="813.8" cy="394.7" rx="3.5" ry="5.5" transform="rotate(6 813.8 394.7)" fill="#fff" stroke="#454545" stroke-width="1.65"/>
<path d="M804,400.9 L818.6,404.8 L818.6,415.8 L804,411.9" fill="#fff" stroke="#454545" stroke-width="1.65" />
<ellipse cx="818.6" cy="410.3" rx="2.1" ry="5.5" transform="rotate(6 818.6 410.3)" fill="none" stroke="#454545" stroke-width="1.5499999999999998"/>
<ellipse cx="804" cy="406.4" rx="3.5" ry="5.5" transform="rotate(6 804 406.4)" fill="#fff" stroke="#454545" stroke-width="1.65"/>
<path d="M788.5,377.3 L809,380.2 L809,397.6 L788.5,394.7" fill="#fff" stroke="#454545" stroke-width="1.65" />
<path d="M795,378 C795.3,379.4 797,383.6 797,386.5 C797,389.4 795.3,394 795,395.5" fill="none" stroke="#454545" stroke-width="1.4500000000000002" />
<path d="M798,378.5 C798.3,379.9 800,384.1 800,387 C800,389.9 798.3,394.5 798,396" fill="none" stroke="#454545" stroke-width="1.4500000000000002" />
<ellipse cx="788.5" cy="386" rx="6" ry="8.7" transform="rotate(6 788.5 386)" fill="#fff" stroke="#454545" stroke-width="1.65"/>
<path d="M1045.5,408.6 C1047.7,405.2 1057.2,395.1 1060.3,392.4 C1063.4,389.7 1062.9,392.1 1064,392.5 C1065.1,392.9 1069.1,391.6 1067,395.1 C1064.9,398.6 1054.8,410.4 1051.5,413.3 C1048.2,416.2 1048,413.3 1047,412.5 C1046,411.7 1043.3,412 1045.5,408.6Z" fill="#fff" stroke="#454545" stroke-width="1.65" />
<path d="M1050.2,409.2 L1062.3,396.4" fill="none" stroke="#454545" stroke-width="1.4500000000000002" />
<path d="M1052.9,410.6 L1064.3,397.8" fill="none" stroke="#454545" stroke-width="1.4500000000000002" />
<path d="M1044.8,429.4 L1055.6,432.1" fill="none" stroke="#454545" stroke-width="1.65" />
<path d="M1055.6,432.1 C1056.3,432.8 1058.9,434.4 1060,436 C1061.1,437.6 1061.9,439.6 1062.3,441.6 C1062.7,443.6 1062.7,446 1062.5,448 C1062.3,450 1062.2,452 1061,453.7 C1059.8,455.4 1056.5,457.6 1055.6,458.4" fill="none" stroke="#454545" stroke-width="1.65" />
<path d="M1055.6,458.4 L1043.5,456.4" fill="none" stroke="#454545" stroke-width="1.65" />
<path d="M1069,435.5 C1071.9,436.1 1082.8,437.8 1086.6,438.9 C1090.4,440 1090.4,440.4 1092,442 C1093.6,443.6 1095.2,446 1096,448.3 C1096.8,450.6 1096.7,453.5 1096.5,456 C1096.3,458.5 1096,460.9 1094.6,463.1 C1093.2,465.3 1090.9,468.8 1088,469.2 C1085.1,469.6 1078.8,466.4 1077,465.8" fill="none" stroke="#454545" stroke-width="1.5499999999999998" />
<ellipse cx="1072.7" cy="450.3" rx="9.8" ry="15.5" transform="rotate(5 1072.7 450.3)" fill="none" stroke="#454545" stroke-width="1.5499999999999998"/>
<ellipse cx="1072.5" cy="450.6" rx="6.7" ry="12.4" transform="rotate(5 1072.5 450.6)" fill="none" stroke="#454545" stroke-width="1.5499999999999998"/>
<path d="M1068.6,440.4 L1076.4,441.6" fill="none" stroke="#454545" stroke-width="1.25" />
<path d="M1067.2,443.5 L1077.8,444.7" fill="none" stroke="#454545" stroke-width="1.25" />
<path d="M1066.5,446.6 L1078.5,447.8" fill="none" stroke="#454545" stroke-width="1.25" />
<path d="M1066.3,449.7 L1078.7,450.9" fill="none" stroke="#454545" stroke-width="1.25" />
<path d="M1066.5,452.8 L1078.5,454" fill="none" stroke="#454545" stroke-width="1.25" />
<path d="M1067,455.9 L1078,457.1" fill="none" stroke="#454545" stroke-width="1.25" />
<path d="M1068.2,459 L1076.8,460.2" fill="none" stroke="#454545" stroke-width="1.25" />
<path d="M234.2,394.8 C234.8,393.7 236.3,390.1 238,388 C239.7,385.9 242.1,383.5 244.5,382.4 C246.9,381.3 250.2,380.8 252.7,381.2 C255.2,381.6 257.5,382.5 259.3,384.9 C261.1,387.3 262.8,391.5 263.4,395.6 C263.9,399.7 263.6,406.2 262.6,409.6 C261.7,413 259.5,413.6 257.7,416.2 C255.9,418.8 252.9,423.7 251.9,425.2" fill="none" stroke="#454545" stroke-width="1.65" />
<path d="M251.9,425.2 L247,423.6 L243.6,417 L245.3,411.2" fill="none" stroke="#454545" stroke-width="1.65" />
<path d="M245.3,411.2 C246.4,410.7 250.5,409.9 251.9,408 C253.3,406.1 253.9,402.2 253.5,399.7 C253.1,397.2 250.8,394.3 249.4,393.1 C248,391.9 246.4,392.1 245.3,392.7 C244.2,393.2 243.1,394.8 242.8,396.4 C242.5,398 243.5,401.2 243.6,402.2" fill="none" stroke="#454545" stroke-width="1.65" />
<path d="M243.6,402.2 L237.9,401.4 L234.2,394.8" fill="none" stroke="#454545" stroke-width="1.65" />
<path d="M239,394 C240.2,392.9 243.7,388.7 246,387.5 C248.3,386.3 251,386.1 253,387 C255,387.9 257.1,390 258,393 C258.9,396 259.2,401.5 258.5,405 C257.8,408.5 255.8,411.7 254,414 C252.2,416.3 249,418.2 248,419" fill="none" stroke="#454545" stroke-width="1.4500000000000002" />
<path d="M256,383 C256.8,384.7 259.8,389 260.5,393 C261.2,397 261.4,402.3 260,407 C258.6,411.7 253.3,418.7 252,421" fill="none" stroke="#454545" stroke-width="1.4500000000000002" />
<path d="M268.3,389.5 C269.1,386.9 270.3,383.7 272.4,382.1 C274.5,380.5 278.4,380.1 280.7,380 C283,379.9 284.5,382.2 286.4,381.3 C288.3,380.4 289.6,376.2 292.2,374.7 C294.8,373.2 299.1,372.2 302,372.2 C304.9,372.2 307.3,373 309.5,374.7 C311.7,376.4 313.7,378.8 315.2,382.1 C316.7,385.4 317.8,390.3 318.5,394.4 C319.2,398.5 320.1,404.3 319.3,406.8 C318.5,409.3 315.5,407.9 313.6,409.3 C311.7,410.7 308.6,412.7 307.8,415 C307,417.3 307.4,421.4 308.6,423.3 C309.8,425.2 314.4,424.7 315.2,426.5 C316,428.3 315,431.1 313.6,434 C312.2,436.9 309.1,441.3 307,443.8 C304.9,446.3 303.1,448.5 301.2,448.8 C299.3,449.1 297.8,446.2 295.5,445.5 C293.2,444.8 290.2,445.4 287.2,444.7 C284.2,444 280.1,442.9 277.4,441.4 C274.7,439.9 272.4,437.9 270.8,435.6 C269.2,433.3 267.8,430.1 267.5,427.4 C267.2,424.6 269.2,422.4 269.1,419.1 C269,415.8 267,411.2 266.7,407.6 C266.4,404 267.2,400.7 267.5,397.7 C267.8,394.7 267.5,392.1 268.3,389.5Z" fill="#fff" stroke="#454545" stroke-width="1.65" />
<path d="M303.7,374.7 C304.8,376.1 308.6,379.6 310.3,382.9 C312,386.2 312.9,390.2 313.6,394.4 C314.3,398.6 314.4,405.7 314.5,408" fill="none" stroke="#454545" stroke-width="1.65" />
<path d="M296.3,446.3 C297.8,445.1 302.9,442.1 305.3,438.9 C307.7,435.7 309.6,429 310.5,427" fill="none" stroke="#454545" stroke-width="1.65" />
<ellipse cx="298.8" cy="390.3" rx="4.5" ry="8" transform="rotate(10 298.8 390.3)" fill="none" stroke="#454545" stroke-width="1.65"/>
<path d="M300.5,383 C300.8,384.2 302.1,387.5 302,390 C301.9,392.5 300.3,396.7 300,398" fill="none" stroke="#454545" stroke-width="1.4500000000000002" />
<ellipse cx="290.5" cy="411" rx="4.5" ry="8" transform="rotate(10 290.5 411)" fill="none" stroke="#454545" stroke-width="1.65"/>
<path d="M292,404 C292.2,405.2 293.6,408.5 293.5,411 C293.4,413.5 291.8,417.7 291.5,419" fill="none" stroke="#454545" stroke-width="1.4500000000000002" />
<ellipse cx="274.9" cy="429.8" rx="3" ry="5.5" transform="rotate(10 274.9 429.8)" fill="none" stroke="#454545" stroke-width="1.65"/>
<path d="M299.4,503.4 C302.5,504.1 314.8,506.8 318.3,507.9 C321.8,509 320,508.9 320.5,510 C321,511.1 321.4,512.8 321.2,514.5 C321,516.2 320.1,518.6 319.5,520 C318.9,521.4 321,523.2 317.5,522.7 C314,522.2 301.8,518 298.6,517" fill="#fff" stroke="#454545" stroke-width="1.65" />
<path d="M302,504.9 C302.3,506.1 303.8,509.7 303.8,512 C303.8,514.3 302.3,517.4 302,518.5" fill="none" stroke="#454545" stroke-width="1.4500000000000002" />
<path d="M305,505.5 C305.3,506.7 306.8,510.5 306.8,512.8 C306.8,515 305.3,518.2 305,519.2" fill="none" stroke="#454545" stroke-width="1.4500000000000002" />
<path d="M308.5,506.2 C308.8,507.4 310.3,511.3 310.3,513.6 C310.3,515.9 308.8,519 308.5,520.1" fill="none" stroke="#454545" stroke-width="1.4500000000000002" />
<path d="M312,506.9 C312.3,508.2 313.8,512.1 313.8,514.5 C313.8,516.9 312.3,519.9 312,521" fill="none" stroke="#454545" stroke-width="1.4500000000000002" />
<path d="M315.5,507.6 C315.8,508.9 317.3,513 317.3,515.4 C317.3,517.8 315.8,520.8 315.5,521.9" fill="none" stroke="#454545" stroke-width="1.4500000000000002" />
<path d="M282.9,494.8 C285.1,495.3 293.4,496.8 296.1,498 C298.9,499.2 298.8,500.2 299.4,502.2 C300,504.2 299.7,507.5 299.6,510 C299.5,512.5 299.6,515.4 298.6,517 C297.6,518.6 296.4,519.8 293.6,519.9 C290.9,520 284,518.1 282.1,517.8" fill="#fff" stroke="#454545" stroke-width="1.65" />
<path d="M260.3,489.4 L269.8,482 L276.3,483.2 L282.9,494.8 L282.1,517.8 L272.2,525.2 L267.3,523.6 L257.4,512.9Z" fill="#fff" stroke="#454545" stroke-width="1.65" />
<path d="M269.8,482 L277.2,495.6 L276.3,516.2 L267.3,523.6" fill="none" stroke="#454545" stroke-width="1.65" />
<path d="M277.2,495.6 L282.9,494.8" fill="none" stroke="#454545" stroke-width="1.65" />
<path d="M276.3,516.2 L282.1,517.8" fill="none" stroke="#454545" stroke-width="1.65" />
<path d="M383,477 C383.5,474.5 385.1,465.8 386.2,462 C387.3,458.2 388.3,455.6 389.8,454.4 C391.3,453.1 393.8,453.9 395,454.5 C396.2,455.1 397.3,456.4 397,458 C396.7,459.6 394.4,461.2 393,464 C391.6,466.8 389.3,472.9 388.6,474.7" fill="none" stroke="#454545" stroke-width="3.4" />
<path d="M383,477 C383.5,474.5 385.1,465.8 386.2,462 C387.3,458.2 388.3,455.6 389.8,454.4 C391.3,453.1 393.8,453.9 395,454.5 C396.2,455.1 397.3,456.4 397,458 C396.7,459.6 394.4,461.2 393,464 C391.6,466.8 389.3,472.9 388.6,474.7" fill="none" stroke="#fff" stroke-width="1.1"/>
<path d="M366,497 C365,497.9 361.3,500.5 360,502.5 C358.7,504.5 358.1,506.8 358.3,509 C358.5,511.2 359.8,514.3 361,515.5 C362.2,516.7 364.3,516.7 365.5,516.2 C366.7,515.7 367.8,513 368.3,512.4" fill="none" stroke="#454545" stroke-width="3.4" />
<path d="M366,497 C365,497.9 361.3,500.5 360,502.5 C358.7,504.5 358.1,506.8 358.3,509 C358.5,511.2 359.8,514.3 361,515.5 C362.2,516.7 364.3,516.7 365.5,516.2 C366.7,515.7 367.8,513 368.3,512.4" fill="none" stroke="#fff" stroke-width="1.1"/>
<ellipse cx="369" cy="496.5" rx="10.5" ry="4.6" transform="rotate(40 369 496.5)" fill="#fff" stroke="#454545" stroke-width="1.65"/>
<ellipse cx="372.1" cy="492.9" rx="10.5" ry="4.6" transform="rotate(40 372.1 492.9)" fill="#fff" stroke="#454545" stroke-width="1.65"/>
<ellipse cx="375.2" cy="489.2" rx="10.5" ry="4.6" transform="rotate(40 375.2 489.2)" fill="#fff" stroke="#454545" stroke-width="1.65"/>
<ellipse cx="378.2" cy="485.6" rx="10.5" ry="4.6" transform="rotate(40 378.2 485.6)" fill="#fff" stroke="#454545" stroke-width="1.65"/>
<ellipse cx="381.3" cy="481.9" rx="10.5" ry="4.6" transform="rotate(40 381.3 481.9)" fill="#fff" stroke="#454545" stroke-width="1.65"/>
<ellipse cx="384.4" cy="478.3" rx="10.5" ry="4.6" transform="rotate(40 384.4 478.3)" fill="#fff" stroke="#454545" stroke-width="1.65"/>
<ellipse cx="384.4" cy="478.3" rx="10.5" ry="4.6" transform="rotate(40 384.4 478.3)" fill="#fff" stroke="#454545" stroke-width="1.65"/>
<ellipse cx="384.4" cy="478.3" rx="7" ry="2.6" transform="rotate(40 384.4 478.3)" fill="none" stroke="#454545" stroke-width="1.5499999999999998"/>
<path d="M470,553.5 C472,556.6 477.9,565.5 482,572 C486.1,578.5 492.6,588.9 494.7,592.3" fill="none" stroke="#454545" stroke-width="1.65" />
<path d="M473.7,554.8 C475.8,558.2 482.2,568.1 486,575 C489.8,581.9 494.9,591.6 496.6,596.2 C498.3,600.8 496.9,600.8 496,602.5 C495.1,604.2 493.2,606.1 490.9,606.3 C488.6,606.5 483.5,604.2 482,603.8" fill="none" stroke="#454545" stroke-width="1.65" />
<path d="M459,569.4 L466.7,580.9" fill="none" stroke="#454545" stroke-width="1.65" />
<path d="M465.5,583 C466.4,583.2 468.1,583.5 470.7,584 C473.3,584.5 479,584.8 481.2,585.8 C483.4,586.8 483.6,588.1 484,590 C484.4,591.9 484.2,595.2 483.5,597 C482.8,598.8 482.9,600.7 480,601 C477.1,601.3 468.3,599.3 466,599" fill="#fff" stroke="#454545" stroke-width="1.65" />
<ellipse cx="465.5" cy="591" rx="6" ry="7.9" transform="rotate(5 465.5 591)" fill="#fff" stroke="#454545" stroke-width="1.65"/>
<path d="M471,584 C471.3,585.2 473,588.9 473,591.5 C473,594.1 471.3,598.2 471,599.5" fill="none" stroke="#454545" stroke-width="1.4500000000000002" />
<path d="M474,584.8 C474.3,586 476,589.5 476,592 C476,594.5 474.3,598.7 474,600" fill="none" stroke="#454545" stroke-width="1.4500000000000002" />
<path d="M432,511.5 C432,510.5 431.4,507.6 432,505.7 C432.6,503.8 434,501.4 435.4,500.3 C436.8,499.2 438.5,499.2 440.3,499.4 C442.1,499.6 444.8,500.6 446.1,501.3 C447.4,502 447.8,503.4 448.1,503.8" fill="#fff" stroke="#454545" stroke-width="1.65" />
<path d="M448.1,503.8 L458.8,532.5" fill="none" stroke="#454545" stroke-width="1.65" />
<path d="M432,511.5 L444.2,538.8" fill="none" stroke="#454545" stroke-width="1.65" />
<path d="M442.3,500.8 L454.9,532" fill="none" stroke="#454545" stroke-width="1.65" />
<ellipse cx="437.9" cy="508.1" rx="2.2" ry="3.8" transform="rotate(15 437.9 508.1)" fill="none" stroke="#454545" stroke-width="1.65"/>
<path d="M454,533 C454.8,533.1 456,533.3 459,533.8 C462,534.2 468.8,534.6 471.8,535.7 C474.8,536.8 475.8,538 476.9,540.2 C478,542.4 478.2,546.6 478.2,549 C478.2,551.4 478.3,553.3 476.9,554.8 C475.5,556.3 473,555.6 470,558 C467,560.4 460.8,567.5 459,569.4" fill="#fff" stroke="#454545" stroke-width="1.65" />
<ellipse cx="454" cy="551" rx="11.5" ry="18" transform="rotate(5 454 551)" fill="#fff" stroke="#454545" stroke-width="1.65"/>
<ellipse cx="453.4" cy="551" rx="7.3" ry="11.5" transform="rotate(5 453.4 551)" fill="none" stroke="#454545" stroke-width="1.65"/>
<path d="M469.3,553.5 C468.9,554.4 467.8,557.2 467,559 C466.2,560.8 465.2,563.5 464.8,564.4" fill="none" stroke="#454545" stroke-width="1.5499999999999998" />
<path d="M427,566.6 C428.8,566.8 434.8,566.6 437.6,567.5 C440.4,568.4 442.4,569.7 444,572 C445.6,574.3 447,577.9 447.2,581.4 C447.4,584.9 446.6,589.8 445,593 C443.4,596.2 440,599.3 437.6,600.6 C435.2,601.9 431.8,600.6 430.6,600.6" fill="#fff" stroke="#454545" stroke-width="1.65" />
<ellipse cx="427.1" cy="583.2" rx="10" ry="17" transform="rotate(5 427.1 583.2)" fill="#fff" stroke="#454545" stroke-width="1.65"/>
<ellipse cx="427.1" cy="583.2" rx="5.2" ry="10.5" transform="rotate(5 427.1 583.2)" fill="none" stroke="#454545" stroke-width="1.65"/>
<path d="M391.3,565.7 C392.3,565 395.4,561.8 397.5,561.3 C399.6,560.8 402,561.4 403.6,563 C405.2,564.6 406.4,568.4 407,571 C407.6,573.6 407.7,576.5 407,578.8 C406.3,581.1 404.4,583.6 402.7,584.9 C401,586.2 398.4,586.8 396.6,586.6 C394.9,586.5 392.9,584.4 392.2,584" fill="none" stroke="#454545" stroke-width="1.65" />
<path d="M392.2,584 L393,580.5 L397.5,579.7" fill="none" stroke="#454545" stroke-width="1.65" />
<path d="M397.5,579.7 C398.1,579.2 400.2,578.3 400.9,577 C401.6,575.7 402.2,573.4 401.8,571.8 C401.4,570.2 399.6,567.8 398.3,567.5 C397,567.2 394.7,569.6 394,570" fill="none" stroke="#454545" stroke-width="1.65" />
<path d="M394,570 L389.6,572.7 L388.7,568.3 L391.3,565.7" fill="none" stroke="#454545" stroke-width="1.65" />
<path d="M400,563 C400.7,564.2 403.3,567.3 404,570 C404.7,572.7 404.8,576.5 404,579 C403.2,581.5 399.8,584 399,585" fill="none" stroke="#454545" stroke-width="1.35" />
<path d="M514,540 C518.3,540.9 531.7,543.7 540,545.5 C548.3,547.3 559.2,549.2 564,551 C568.8,552.8 568.2,554.2 568.5,556 C568.8,557.8 567.4,560.7 566,562 C564.6,563.3 564.3,564.4 560,564 C555.7,563.6 547.7,561 540,559.5 C532.3,558 518.3,555.8 514,555" fill="#fff" stroke="#454545" stroke-width="1.65" />
<ellipse cx="514" cy="547.5" rx="5" ry="7.5" transform="rotate(8 514 547.5)" fill="#fff" stroke="#454545" stroke-width="1.65"/>
<path d="M519,540.6 C519.3,541.8 521,545.5 521,548 C521,550.5 519.3,554.2 519,555.5" fill="none" stroke="#454545" stroke-width="1.4500000000000002" />
<path d="M521.8,541.1 C522.1,542.3 523.8,546 523.8,548.5 C523.8,551 522.1,554.8 521.8,556" fill="none" stroke="#454545" stroke-width="1.4500000000000002" />
<path d="M524.6,541.6 C524.9,542.8 526.6,546.5 526.6,549 C526.6,551.5 524.9,555.2 524.6,556.5" fill="none" stroke="#454545" stroke-width="1.4500000000000002" />
<path d="M608.4,584.1 C607.4,570.4 611.5,576.2 614.1,574.5 C616.7,572.8 620.8,573 623.7,573.6 C626.6,574.2 627.4,572.8 631.4,578.4 C635.4,584 642.6,597.4 648,607 C653.4,616.6 661.6,629.9 664,636 C666.4,642.1 663.7,642.2 662.1,643.6 C660.5,645 656.4,645.2 654.5,644.6 C652.6,644 651.9,642.5 650.6,639.8 C649.3,637.1 648.2,630.9 646.8,628.3 C645.4,625.7 643.6,624.6 642,624 C640.4,623.4 639,623.5 637.2,624.5 C635.4,625.5 632.3,628.1 631,630 C629.7,631.9 629.4,633.1 629.5,636 C629.6,638.9 630.8,644.6 631.4,647.5 C632,650.4 633.9,651.1 633.3,653.2 C632.7,655.3 629.8,659.4 627.6,660 C625.4,660.6 623.2,669.6 620,657 C616.8,644.4 609.4,597.9 608.4,584.1Z" fill="#fff" stroke="#454545" stroke-width="1.65" />
<path d="M625,574 C626.5,575.7 628.2,574.7 634,584 C639.8,593.3 656,620.3 660,630 C664,639.7 658.3,640 658,642" fill="none" stroke="#454545" stroke-width="1.65" />
<path d="M631,627 C631.5,628.7 633.7,633.5 634,637 C634.3,640.5 633.2,646.2 633,648" fill="none" stroke="#454545" stroke-width="1.65" />
<ellipse cx="619" cy="586" rx="4.5" ry="8" transform="rotate(8 619 586)" fill="none" stroke="#454545" stroke-width="1.65"/>
<ellipse cx="624.7" cy="612" rx="3" ry="4.5" transform="rotate(8 624.7 612)" fill="none" stroke="#454545" stroke-width="1.65"/>
<path d="M667.9,593.7 C668.2,585.1 670.7,587.8 673.6,587 C676.5,586.2 680.4,584.5 685.2,589 C690,593.5 701.1,608 702.4,613.9 C703.7,619.8 695.7,623.1 692.8,624.5 C689.9,625.9 686.8,622 685.2,622.5 C683.6,623 683.2,625.7 683.2,627.3 C683.2,628.9 686.2,629.7 685.2,632.1 C684.2,634.5 679.8,640.6 677.5,641.7 C675.2,642.8 673.3,646.8 671.7,638.8 C670.1,630.8 667.6,602.3 667.9,593.7Z" fill="#fff" stroke="#454545" stroke-width="1.65" />
<path d="M680,588 L698,612 L690,621" fill="none" stroke="#454545" stroke-width="1.65" />
<ellipse cx="675.6" cy="599.5" rx="4.5" ry="7.5" transform="rotate(8 675.6 599.5)" fill="none" stroke="#454545" stroke-width="1.65"/>
<path d="M724.4,596.5 C725.3,596.8 728.3,596.2 730,598.5 C731.7,600.8 734.5,606.2 734.5,610 C734.5,613.8 731.7,619.2 730,621.5 C728.3,623.8 725.3,623.2 724.4,623.5" fill="#fff" stroke="#454545" stroke-width="1.65" />
<ellipse cx="723" cy="610" rx="8" ry="13.5" transform="rotate(5 723 610)" fill="#fff" stroke="#454545" stroke-width="1.65"/>
<ellipse cx="722.9" cy="609.6" rx="4.1" ry="6.7" transform="rotate(5 722.9 609.6)" fill="none" stroke="#454545" stroke-width="1.65"/>
<path d="M747.1,603.4 L756.6,604.9 L762.8,610.4 L764.4,615.1 L762.8,625.3 L753.4,628.5 L747.1,626.1" fill="#fff" stroke="#454545" stroke-width="1.5499999999999998" />
<path d="M755,613.6 L755,623" fill="none" stroke="#454545" stroke-width="1.4500000000000002" />
<path d="M755,613.6 L762.5,612.5" fill="none" stroke="#454545" stroke-width="1.4500000000000002" />
<path d="M755,623 L762,625" fill="none" stroke="#454545" stroke-width="1.4500000000000002" />
<path d="M752,605 L755,613.6" fill="none" stroke="#454545" stroke-width="1.4500000000000002" />
<path d="M749,625.5 L755,623" fill="none" stroke="#454545" stroke-width="1.4500000000000002" />
<ellipse cx="746" cy="614.7" rx="5.9" ry="11.4" transform="rotate(5 746 614.7)" fill="#fff" stroke="#454545" stroke-width="1.5499999999999998"/>
<ellipse cx="746" cy="614.7" rx="3" ry="6" transform="rotate(5 746 614.7)" fill="none" stroke="#454545" stroke-width="1.5499999999999998"/>
<path d="M748,605 C748.5,606.6 751,611.5 751,614.7 C751,618 748.5,622.9 748,624.5" fill="none" stroke="#454545" stroke-width="1.35" /></svg><svg class="tx" width="1146" height="668" viewBox="0 0 1146 668"><text transform="translate(21.2 653.4) scale(1 1.05)" class="lb">39</text>
<text transform="translate(231 251.3) scale(1 1.05)" class="lb">22</text>
<text transform="translate(471.2 262.5) scale(1 1.05)" class="lb">8</text>
<text transform="translate(517.2 293) scale(1 1.05)" class="lb">5</text>
<text transform="translate(565.8 104.3) scale(1 1.05)" class="lb">33</text>
<text transform="translate(540.2 182) scale(1 1.05)" class="lb">23</text>
<text transform="translate(618.2 149.5) scale(1 1.05)" class="lb">34</text>
<text transform="translate(664.2 189.2) scale(1 1.05)" class="lb">13</text>
<text transform="translate(624.2 62) scale(1 1.05)" class="lb">29</text>
<text transform="translate(796 45) scale(1 1.05)" class="lb">27</text>
<text transform="translate(869.7 120) scale(1 1.05)" class="lb">28</text>
<text transform="translate(912.2 376.3) scale(1 1.05)" class="lb">17</text>
<text transform="translate(1050.8 384) scale(1 1.05)" class="lb">2</text>
<text transform="translate(1068.1 492.9) scale(1 1.05)" class="lb">10</text>
<text transform="translate(427.9 351) scale(1 1.05)" class="lb">30</text>
<text transform="translate(503.2 366.3) scale(1 1.05)" class="lb">26</text>
<text transform="translate(541.8 412) scale(1 1.05)" class="lb">35</text>
<text transform="translate(609.9 400.5) scale(1 1.05)" class="lb">25</text>
<text transform="translate(644.5 408) scale(1 1.05)" class="lb">24</text>
<text transform="translate(692.7 402.6) scale(1 1.05)" class="lb">12</text>
<text transform="translate(680.2 311.4) scale(1 1.05)" class="lb">4</text>
<text transform="translate(213.2 384.6) scale(1 1.05)" class="lb">11</text>
<text transform="translate(320.2 378.8) scale(1 1.05)" class="lb">21</text>
<text transform="translate(274.2 545) scale(1 1.05)" class="lb">32</text>
<text transform="translate(350.6 465) scale(1 1.05)" class="lb">31</text>
<text transform="translate(527.6 534.3) scale(1 1.05)" class="lb">14</text>
<text transform="translate(415.1 623) scale(1 1.05)" class="lb">18</text>
<text transform="translate(363.6 599) scale(1 1.05)" class="lb">19</text>
<text transform="translate(469 627.7) scale(1 1.05)" class="lb">20</text>
<text transform="translate(709.2 590.9) scale(1 1.05)" class="lb">6</text>
<text transform="translate(766.9 632) scale(1 1.05)" class="lb">9</text>
<text transform="translate(654.6 664.8) scale(1 1.05)" class="lb">15</text></svg><svg class="yl" width="1146" height="668" viewBox="0 0 1146 668"><path d="M1045,405.5 L1059,406.7 L1078.5,411.5 L1097.6,415.6 L1119.2,416.3 L1119.2,440.2 L1124,441.4 L1124,479.7 L1112,484.5 L1110.8,504.9 L1057,504.9 L1055.7,477.3 L1055.7,448.6 L1046,446 Z" fill="#ffe600" stroke="none"/></svg>
</body></html>
